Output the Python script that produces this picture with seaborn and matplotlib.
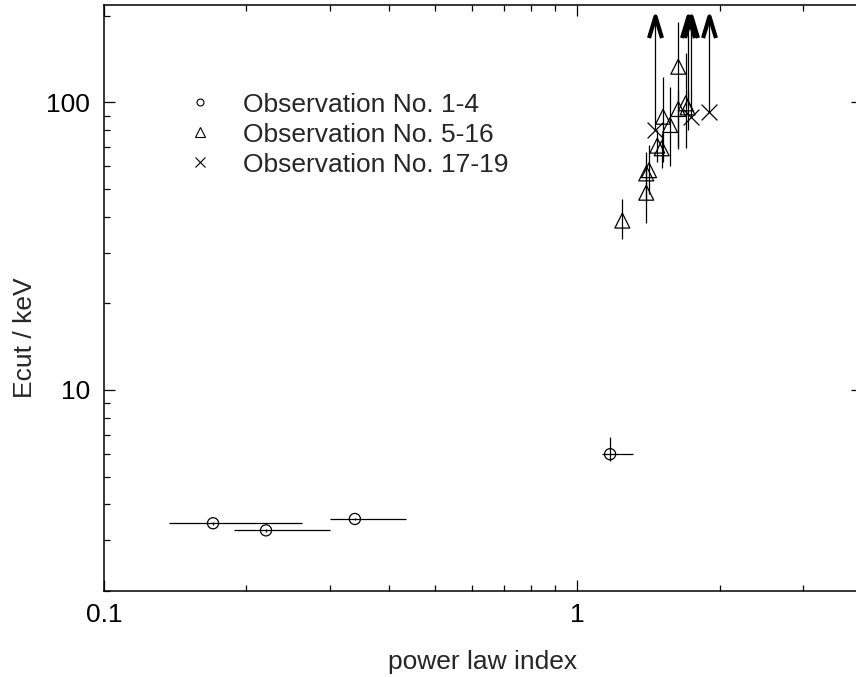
import numpy as np
import pandas as pd
import matplotlib
matplotlib.use("Agg")
import matplotlib.pyplot as plt
import seaborn as sns
from matplotlib.lines import Line2D
from matplotlib.path import Path

# ---------------- data ----------------
# Observation No. 1-4 (circles)
obs1_x = [0.170, 0.220, 0.339, 1.174]
obs1_xlo = [0.137, 0.188, 0.301, 1.131]
obs1_xhi = [0.262, 0.301, 0.434, 1.310]
obs1_y = [3.44, 3.25, 3.56, 5.98]
obs1_ylo = [3.40, 3.21, 3.52, 5.65]
obs1_yhi = [3.48, 3.29, 3.60, 6.85]

# Observation No. 5-16 (triangles)
obs2_x = [1.246, 1.400, 1.400, 1.419, 1.477, 1.509, 1.519, 1.572, 1.636, 1.636, 1.696, 1.712]
obs2_y = [38.8, 48.5, 56.6, 58.1, 70.7, 69.2, 89.1, 83.4, 133.0, 94.8, 99.2, 96.0]
obs2_ylo = [33.4, 38.2, 45.0, 48.0, 62.0, 59.0, 62.0, 60.2, 68.7, 70.0, 69.2, 80.0]
obs2_yhi = [46.0, 60.0, 67.3, 71.0, 80.0, 78.0, 122.7, 112.7, 190.6, 110.0, 148.7, 110.0]

# Observation No. 17-19 (crosses)
obs3_x = [1.458, 1.742, 1.899]
obs3_y = [80.1, 88.7, 92.3]

# lower-limit arrows (start value -> arrow tip)
arrow_x = [1.458, 1.712, 1.742, 1.899]
arrow_y0 = [80.1, 96.0, 88.7, 92.3]
arrow_top = 200.0

labels = ["Observation No. 1-4", "Observation No. 5-16", "Observation No. 17-19"]

# ---------------- style ----------------
sns.set_theme(style="ticks")
plt.rcParams["font.family"] = ["Liberation Sans", "DejaVu Sans"]
plt.rcParams["axes.linewidth"] = 1.1
FS = 19

fig = plt.figure(figsize=(8.56, 6.77), dpi=100)
ax = fig.add_axes([104 / 856, 86 / 677, 758 / 856, 586 / 677])
ax.set_facecolor("white")

ax.set_xscale("log")
ax.set_yscale("log")
ax.set_xlim(0.1, 4.0)
ax.set_ylim(2.0, 218.0)

# error bars
x1 = np.array(obs1_x); y1 = np.array(obs1_y)
ax.errorbar(x1, y1,
            xerr=[x1 - np.array(obs1_xlo), np.array(obs1_xhi) - x1],
            yerr=[y1 - np.array(obs1_ylo), np.array(obs1_yhi) - y1],
            fmt="none", ecolor="black", elinewidth=0.9, capsize=0)
y2 = np.array(obs2_y)
ax.errorbar(obs2_x, y2,
            yerr=[y2 - np.array(obs2_ylo), np.array(obs2_yhi) - y2],
            fmt="none", ecolor="black", elinewidth=0.9, capsize=0)

# arrows (shaft + thick head)
ax.vlines(arrow_x, arrow_y0, arrow_top, colors="black", linewidth=0.9)
head = Path([(-0.3, -1.0), (0.0, 0.0), (0.3, -1.0)],
            [Path.MOVETO, Path.LINETO, Path.LINETO])
ax.plot(arrow_x, [arrow_top] * len(arrow_x), ls="none", marker=head,
        markersize=31, markeredgewidth=3.0, markeredgecolor="black",
        fillstyle="none")

# markers via seaborn
df1 = pd.DataFrame({"x": obs1_x, "y": obs1_y})
df2 = pd.DataFrame({"x": obs2_x, "y": obs2_y})
df3 = pd.DataFrame({"x": obs3_x, "y": obs3_y})
sns.scatterplot(data=df1, x="x", y="y", ax=ax, marker="o", s=64,
                facecolors="none", edgecolor="black", linewidth=0.9, zorder=3)
sns.scatterplot(data=df2, x="x", y="y", ax=ax, marker="^", s=115,
                facecolors="none", edgecolor="black", linewidth=0.9, zorder=3)
sns.scatterplot(data=df3, x="x", y="y", ax=ax, marker="x", s=130,
                color="black", linewidth=0.9, zorder=3)

# ticks
ax.set_xticks([0.1, 1.0])
ax.set_xticklabels(["0.1", "1"])
ax.set_xticks([0.2, 0.3, 0.4, 0.5, 0.6, 0.7, 0.8, 0.9, 2, 3, 4], minor=True)
ax.set_yticks([10, 100])
ax.set_yticklabels(["10", "100"])
ax.set_yticks([2, 3, 4, 5, 6, 7, 8, 9, 20, 30, 40, 50, 60, 70, 80, 90, 200], minor=True)
ax.tick_params(which="both", direction="in", top=True, right=True,
               colors="black", labelsize=FS)
ax.tick_params(which="major", length=8, width=0.9)
ax.tick_params(which="minor", length=4.3, width=0.9, labelleft=False, labelbottom=False)
ax.tick_params(axis="y", which="major", pad=10)
ax.tick_params(axis="x", which="major", pad=9)
for s in ax.spines.values():
    s.set_color("black")

ax.set_xlabel("power law index", fontsize=FS)
ax.set_ylabel("Ecut / keV", fontsize=FS)
ax.xaxis.label.set_va("center")
ax.yaxis.label.set_va("center")
ax.xaxis.set_label_coords(0.5, (591 - 662) / 586)
ax.yaxis.set_label_coords((25 - 104) / 758, (591 - 338) / 586)

handles = [
    Line2D([], [], ls="none", marker="o", ms=5, mfc="none", mec="black", mew=0.8),
    Line2D([], [], ls="none", marker="^", ms=6.5, mfc="none", mec="black", mew=0.8),
    Line2D([], [], ls="none", marker="x", ms=6.5, color="black", mew=0.8),
]
ax.legend(handles, labels, loc="upper left", bbox_to_anchor=(187 / 856, 1 - 92.5 / 677),
          bbox_transform=fig.transFigure, frameon=False, fontsize=FS,
          handlelength=1.0, handletextpad=1.13, labelspacing=0.23,
          borderpad=0, borderaxespad=0)

fig.savefig("out.png", dpi=100, facecolor="white")
